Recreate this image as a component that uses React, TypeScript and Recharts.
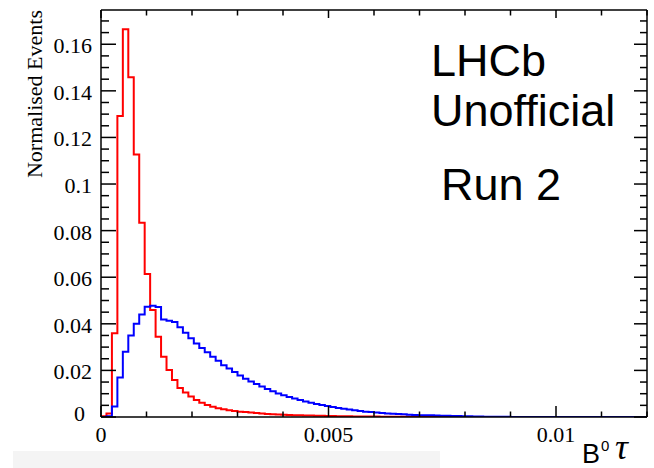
import { LineChart, Line, XAxis, YAxis } from 'recharts';

const X_MIN = 0;
const X_MAX = 0.012;
const Y_MAX = 0.1747;

// normalised bin contents, 100 equal bins between X_MIN and X_MAX
const RED_BINS = [
  0.0003, 0.0015, 0.0359, 0.1292, 0.1664, 0.1458, 0.1127, 0.0834, 0.0614, 0.0459,
  0.0344, 0.0259, 0.0202, 0.0159, 0.0125, 0.0105, 0.0088, 0.0073, 0.0061, 0.0052,
  0.0044, 0.0038, 0.0033, 0.0029, 0.0026, 0.0023, 0.0021, 0.0019, 0.0017, 0.0015,
  0.0013, 0.0012, 0.0011, 0.001, 0.0009, 0.0008, 0.0007, 0.0006, 0.0006, 0.0005,
  0.0005, 0.0004, 0.0004, 0.0003, 0.0003, 0.0003, 0.0002, 0.0002, 0.0002, 0.0002,
  0.0002, 0.0001, 0.0001, 0.0001, 0.0001, 0.0001, 0.0001, 0.0001, 0.0001, 0.0001,
  0.0001, 0, 0, 0, 0, 0, 0, 0, 0, 0,
  0, 0, 0, 0, 0, 0, 0, 0, 0, 0,
  0, 0, 0, 0, 0, 0, 0, 0, 0, 0,
  0, 0, 0, 0, 0, 0, 0, 0, 0, 0,
];

const BLUE_BINS = [
  0, 0.0003, 0.0045, 0.017, 0.028, 0.035, 0.04, 0.044, 0.0473, 0.0478,
  0.0472, 0.0418, 0.0413, 0.0408, 0.0385, 0.0362, 0.0338, 0.0315, 0.0296, 0.0278,
  0.0259, 0.0241, 0.0222, 0.0208, 0.0193, 0.0178, 0.0164, 0.0152, 0.0142, 0.0131,
  0.012, 0.011, 0.0101, 0.0093, 0.0086, 0.0079, 0.0073, 0.0067, 0.0061, 0.0056,
  0.0051, 0.0047, 0.0043, 0.0039, 0.0035, 0.0032, 0.0029, 0.0026, 0.0023, 0.0021,
  0.0019, 0.0017, 0.0015, 0.0014, 0.0013, 0.0012, 0.001, 0.0009, 0.0008, 0.0008,
  0.0007, 0.0006, 0.0005, 0.0005, 0.0004, 0.0004, 0.0003, 0.0003, 0.0002, 0.0002,
  0.0001, 0.0001, 0.0001, 0.0001, 0.0001, 0, 0, 0, 0, 0,
  0, 0, 0, 0, 0, 0, 0, 0, 0, 0,
  0, 0, 0, 0, 0, 0, 0, 0, 0, 0,
];

const X_TICKS = [0, 0.001, 0.002, 0.003, 0.004, 0.005, 0.006, 0.007, 0.008, 0.009, 0.01, 0.011, 0.012];
const X_MAJORS = [0, 0.005, 0.01];
const X_LABELS = ['0', '0.005', '0.01'];

const Y_TICKS = [
  0, 0.005, 0.01, 0.015, 0.02, 0.025, 0.03, 0.035, 0.04, 0.045, 0.05, 0.055,
  0.06, 0.065, 0.07, 0.075, 0.08, 0.085, 0.09, 0.095, 0.1, 0.105, 0.11, 0.115,
  0.12, 0.125, 0.13, 0.135, 0.14, 0.145, 0.15, 0.155, 0.16, 0.165, 0.17,
];
const Y_MAJORS = [0, 0.02, 0.04, 0.06, 0.08, 0.1, 0.12, 0.14, 0.16];
const Y_LABELS = ['0', '0.02', '0.04', '0.06', '0.08', '0.1', '0.12', '0.14', '0.16'];

const nBins = RED_BINS.length;
const binWidth = (X_MAX - X_MIN) / nBins;
const histData = Array.from({ length: nBins + 1 }, (_, i) => ({
  x: X_MIN + i * binWidth,
  red: RED_BINS[Math.min(i, nBins - 1)],
  blue: BLUE_BINS[Math.min(i, nBins - 1)],
}));

const SERIF = '"Liberation Serif", "Times New Roman", serif';
const SANS = '"Liberation Sans", Arial, sans-serif';

const findLabel = (v: number, majors: number[], labels: string[]) => {
  const k = majors.findIndex((m) => Math.abs(m - v) < 1e-9);
  return k >= 0 ? labels[k] : null;
};

function BottomTick({ x, y, payload }: any) {
  const label = findLabel(payload.value, X_MAJORS, X_LABELS);
  return (
    <g>
      <line x1={x} x2={x} y1={y} y2={y - (label ? 11 : 5.5)} stroke="#000" strokeWidth={1.5} />
      {label && (
        <text x={x} y={y + 25} textAnchor="middle" fontFamily={SERIF} fontSize={22} fill="#000">
          {label}
        </text>
      )}
    </g>
  );
}

function TopTick({ x, y, payload }: any) {
  const label = findLabel(payload.value, X_MAJORS, X_LABELS);
  return <line x1={x} x2={x} y1={y} y2={y + (label ? 8 : 5.5)} stroke="#000" strokeWidth={1.5} />;
}

function LeftTick({ x, y, payload }: any) {
  const label = findLabel(payload.value, Y_MAJORS, Y_LABELS);
  const isZero = payload.value === 0;
  return (
    <g>
      <line x1={x} x2={x + (label ? 15 : 8)} y1={y} y2={y} stroke="#000" strokeWidth={1.5} />
      {label && (
        <text
          x={isZero ? x - 16 : x - 9}
          y={isZero ? y + 4 : y + 9}
          textAnchor="end"
          fontFamily={SERIF}
          fontSize={22}
          fill="#000"
        >
          {label}
        </text>
      )}
    </g>
  );
}

function RightTick({ x, y, payload }: any) {
  const label = findLabel(payload.value, Y_MAJORS, Y_LABELS);
  return <line x1={x} x2={x - (label ? 13 : 7)} y1={y} y2={y} stroke="#000" strokeWidth={1.5} />;
}

export default function App() {
  const axisLine = { stroke: '#000', strokeWidth: 1.5 };
  return (
    <div style={{ position: 'absolute', left: 0, top: 0, width: 654, height: 468, background: '#fff' }}>
      {/* faint strip from the slide underneath */}
      <div style={{ position: 'absolute', left: 13, top: 451, width: 427, height: 17, background: '#f4f4f4' }} />
      <div style={{ position: 'absolute', left: 0, top: 0 }}>
        <LineChart width={654} height={468} data={histData} margin={{ top: 9, right: 6, left: 0, bottom: 0 }}>
          <XAxis
            dataKey="x"
            type="number"
            domain={[X_MIN, X_MAX]}
            ticks={X_TICKS}
            interval={0}
            allowDataOverflow
            height={51}
            axisLine={axisLine}
            tickLine={false}
            tickSize={0}
            tickMargin={0}
            tick={(p: any) => <BottomTick {...p} />}
          />
          <XAxis
            xAxisId="top"
            orientation="top"
            dataKey="x"
            type="number"
            domain={[X_MIN, X_MAX]}
            ticks={X_TICKS}
            interval={0}
            allowDataOverflow
            height={1}
            axisLine={axisLine}
            tickLine={false}
            tickSize={0}
            tickMargin={0}
            tick={(p: any) => <TopTick {...p} />}
          />
          <YAxis
            type="number"
            domain={[0, Y_MAX]}
            ticks={Y_TICKS}
            interval={0}
            allowDataOverflow
            width={101}
            axisLine={axisLine}
            tickLine={false}
            tickSize={0}
            tickMargin={0}
            tick={(p: any) => <LeftTick {...p} />}
          />
          <YAxis
            yAxisId="right"
            orientation="right"
            type="number"
            domain={[0, Y_MAX]}
            ticks={Y_TICKS}
            interval={0}
            allowDataOverflow
            width={1}
            axisLine={axisLine}
            tickLine={false}
            tickSize={0}
            tickMargin={0}
            tick={(p: any) => <RightTick {...p} />}
          />
          {/* invisible copy that keeps the mirrored top/right axes alive */}
          <Line
            xAxisId="top"
            yAxisId="right"
            type="stepAfter"
            dataKey="red"
            stroke="none"
            dot={false}
            activeDot={false}
            legendType="none"
            isAnimationActive={false}
          />
          <Line
            type="stepAfter"
            dataKey="red"
            stroke="#ff0000"
            strokeWidth={2}
            dot={false}
            activeDot={false}
            isAnimationActive={false}
          />
          <Line
            type="stepAfter"
            dataKey="blue"
            stroke="#0000ff"
            strokeWidth={2}
            dot={false}
            activeDot={false}
            isAnimationActive={false}
          />
        </LineChart>
      </div>
      <svg
        width={654}
        height={468}
        style={{ position: 'absolute', left: 0, top: 0, pointerEvents: 'none' }}
      >
        <text
          transform="translate(41.5, 10) rotate(-90)"
          textAnchor="end"
          fontFamily={SERIF}
          fontSize={22}
          fill="#000"
        >
          Normalised Events
        </text>
        <text x={431} y={76} fontFamily={SANS} fontSize={45} fill="#000">LHCb</text>
        <text x={431} y={126} fontFamily={SANS} fontSize={45} fill="#000">Unofficial</text>
        <text x={441} y={200} fontFamily={SANS} fontSize={45} fill="#000">Run 2</text>
        <text x={582} y={463} fontFamily={SANS} fontSize={27} fill="#000">B</text>
        <text x={601} y={451} fontFamily={SANS} fontSize={15} fill="#000">0</text>
        <text x={615} y={459} fontFamily={SERIF} fontStyle="italic" fontSize={36} fill="#000">τ</text>
      </svg>
    </div>
  );
}
